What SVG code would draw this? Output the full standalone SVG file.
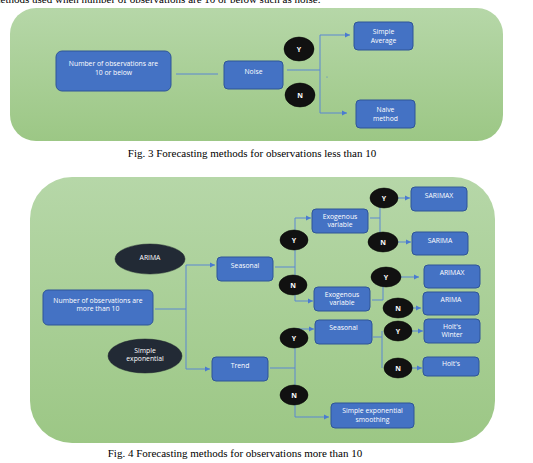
<svg xmlns="http://www.w3.org/2000/svg" width="533" height="463" viewBox="0 0 533 463">
<defs>
<linearGradient id="g" x1="0" y1="0" x2="0" y2="1">
<stop offset="0" stop-color="#b6d7a8"/>
<stop offset="1" stop-color="#9cc785"/>
</linearGradient>
<marker id="a" markerWidth="6" markerHeight="6" refX="5" refY="3" orient="auto" markerUnits="userSpaceOnUse">
<path d="M0,0.5 L5,3 L0,5.5 Z" fill="#4a7bd0"/>
</marker>
<style>
.bx{fill:#4472c4;stroke:#2f5597;stroke-width:1}
.el{fill:#111;stroke:#000;stroke-width:0.5}
.ea{fill:#222a35;stroke:#1a202a;stroke-width:0.5}
.t{font-family:"Open Sans","Liberation Sans",sans-serif;font-size:6.8px;fill:#fff;text-anchor:middle}
.tb{font-family:"Open Sans","Liberation Sans",sans-serif;font-size:7px;fill:#fff;text-anchor:middle;font-weight:bold}
.c{font-family:"Liberation Serif",serif;font-size:11px;fill:#000;text-anchor:middle}
.ln{fill:none;stroke:#5b87d2;stroke-width:1}
.ar{fill:none;stroke:#5b87d2;stroke-width:1;marker-end:url(#a)}
</style>
</defs>
<text x="-8" y="3" font-family="Liberation Serif,serif" font-size="11px" fill="#000">methods used when number of observations are 10 or below such as noise.</text>
<rect x="10" y="8" width="493" height="133" rx="26" fill="url(#g)"/>
<rect x="30" y="177" width="465" height="266" rx="42" fill="url(#g)"/>
<g id="connectors">
<path class="ln" d="M176,74 H218"/>
<path class="ln" d="M287,70 H320 M320,35 V113"/>
<path class="ar" d="M320,35 H350"/>
<path class="ar" d="M320,113 H347"/>
<circle cx="327" cy="77" r="0.6" fill="#4a7bd0"/>
<path class="ln" d="M155,309 H186 M186,265 V369"/>
<path class="ar" d="M186,265 H215"/>
<path class="ar" d="M186,369 H210"/>
<path class="ln" d="M275,267 H295 M295,218 V301"/>
<path class="ar" d="M295,218 H311"/>
<path class="ar" d="M295,301 H313"/>
<path class="ln" d="M370,218 H380 M380,198 V242"/>
<path class="ar" d="M398,198 H410"/>
<path class="ar" d="M398,242 H411"/>
<path class="ln" d="M372,300 H383 M383,277 V300"/>
<path class="ar" d="M400,277 H419"/>
<path class="ar" d="M413,308 H421"/>
<path class="ln" d="M270,368 H295 M295,329 V417"/>
<path class="ar" d="M295,329 H314"/>
<path class="ar" d="M295,417 H329"/>
<path class="ln" d="M373,337 H382 M382,331 V368"/>
<path class="ar" d="M412,331 H423"/>
<path class="ar" d="M412,368 H422"/>
</g>
<g id="n-obs10"><rect class="bx" x="56" y="51" width="115" height="40" rx="6"/><text class="t" x="113.5" y="66">Number of observations are</text><text class="t" x="113.5" y="75">10 or below</text></g>
<g id="n-noise"><rect class="bx" x="224" y="61" width="59" height="28" rx="4"/><text class="t" x="253.5" y="74">Noise</text></g>
<g id="n-y1"><ellipse class="el" cx="299" cy="49" rx="15" ry="12"/><text class="tb" x="299" y="52">Y</text></g>
<g id="n-n1"><ellipse class="el" cx="300" cy="95" rx="15" ry="12"/><text class="tb" x="300" y="98">N</text></g>
<g id="n-sa"><rect class="bx" x="354" y="22" width="59" height="28" rx="4"/><text class="t" x="383.5" y="33.5">Simple</text><text class="t" x="383.5" y="42.5">Average</text></g>
<g id="n-naive"><rect class="bx" x="356" y="100" width="59" height="28" rx="4"/><text class="t" x="385.5" y="111.5">Naive</text><text class="t" x="385.5" y="120.5">method</text></g>
<text class="c" x="252" y="157">Fig. 3 Forecasting methods for observations less than 10</text>
<g id="n-arima-e"><ellipse class="ea" cx="150" cy="259" rx="35" ry="15"/><text class="t" x="150" y="259.5" font-size="6.3px">ARIMA</text></g>
<g id="n-obsm10"><rect class="bx" x="43" y="290" width="110" height="35" rx="5"/><text class="t" x="98" y="303" font-size="6.5px">Number of observations are</text><text class="t" x="98" y="311" font-size="6.5px">more than 10</text></g>
<g id="n-se-e"><ellipse class="ea" cx="145" cy="356" rx="37" ry="17"/><text class="t" x="145" y="353" font-size="6.3px">Simple</text><text class="t" x="145" y="361" font-size="6.3px">exponential</text></g>
<g id="n-seasonal"><rect class="bx" x="217" y="257" width="56" height="24" rx="4"/><text class="t" x="245" y="268">Seasonal</text></g>
<g id="n-trend"><rect class="bx" x="212" y="357" width="56" height="24" rx="4"/><text class="t" x="240" y="368">Trend</text></g>
<g id="n-y2"><ellipse class="el" cx="294" cy="240" rx="14" ry="10"/><text class="tb" x="294" y="243">Y</text></g>
<g id="n-n2"><ellipse class="el" cx="293" cy="285" rx="14" ry="10"/><text class="tb" x="293" y="288">N</text></g>
<g id="n-exo1"><rect class="bx" x="312" y="209" width="56" height="24" rx="4"/><text class="t" x="340" y="219">Exogenous</text><text class="t" x="340" y="227">variable</text></g>
<g id="n-exo2"><rect class="bx" x="314" y="287" width="56" height="24" rx="4"/><text class="t" x="342" y="297">Exogenous</text><text class="t" x="342" y="305">variable</text></g>
<g id="n-y3"><ellipse class="el" cx="384" cy="198" rx="14" ry="10"/><text class="tb" x="384" y="201">Y</text></g>
<g id="n-n3"><ellipse class="el" cx="383" cy="242" rx="15" ry="10"/><text class="tb" x="383" y="245">N</text></g>
<g id="n-sarimax"><rect class="bx" x="411" y="187" width="56" height="24" rx="4"/><text class="t" x="439" y="198">SARIMAX</text></g>
<g id="n-sarima"><rect class="bx" x="412" y="232" width="56" height="23" rx="4"/><text class="t" x="440" y="243">SARIMA</text></g>
<g id="n-y4"><ellipse class="el" cx="386" cy="277" rx="15" ry="10"/><text class="tb" x="386" y="280">Y</text></g>
<g id="n-n4"><ellipse class="el" cx="398" cy="308" rx="15" ry="10"/><text class="tb" x="398" y="311">N</text></g>
<g id="n-arimax"><rect class="bx" x="424" y="265" width="56" height="23" rx="4"/><text class="t" x="452" y="275">ARIMAX</text></g>
<g id="n-arima"><rect class="bx" x="423" y="292" width="56" height="23" rx="4"/><text class="t" x="451" y="302">ARIMA</text></g>
<g id="n-y5"><ellipse class="el" cx="294" cy="338" rx="14" ry="10"/><text class="tb" x="294" y="341">Y</text></g>
<g id="n-n5"><ellipse class="el" cx="294" cy="395" rx="14" ry="10"/><text class="tb" x="294" y="398">N</text></g>
<g id="n-seasonal2"><rect class="bx" x="315" y="320" width="57" height="24" rx="4"/><text class="t" x="343.5" y="330">Seasonal</text></g>
<g id="n-ses"><rect class="bx" x="331" y="403" width="83" height="25" rx="4"/><text class="t" x="372.5" y="413">Simple exponential</text><text class="t" x="372.5" y="421.5">smoothing</text></g>
<g id="n-y6"><ellipse class="el" cx="398" cy="331" rx="14" ry="10"/><text class="tb" x="398" y="334">Y</text></g>
<g id="n-n6"><ellipse class="el" cx="398" cy="368" rx="14" ry="10"/><text class="tb" x="398" y="371">N</text></g>
<g id="n-hw"><rect class="bx" x="424" y="319" width="56" height="24" rx="4"/><text class="t" x="452" y="328.5">Holt's</text><text class="t" x="452" y="337">Winter</text></g>
<g id="n-holt"><rect class="bx" x="423" y="357" width="56" height="19" rx="4"/><text class="t" x="451" y="366">Holt's</text></g>
<text class="c" x="235" y="457">Fig. 4 Forecasting methods for observations more than 10</text>
</svg>
